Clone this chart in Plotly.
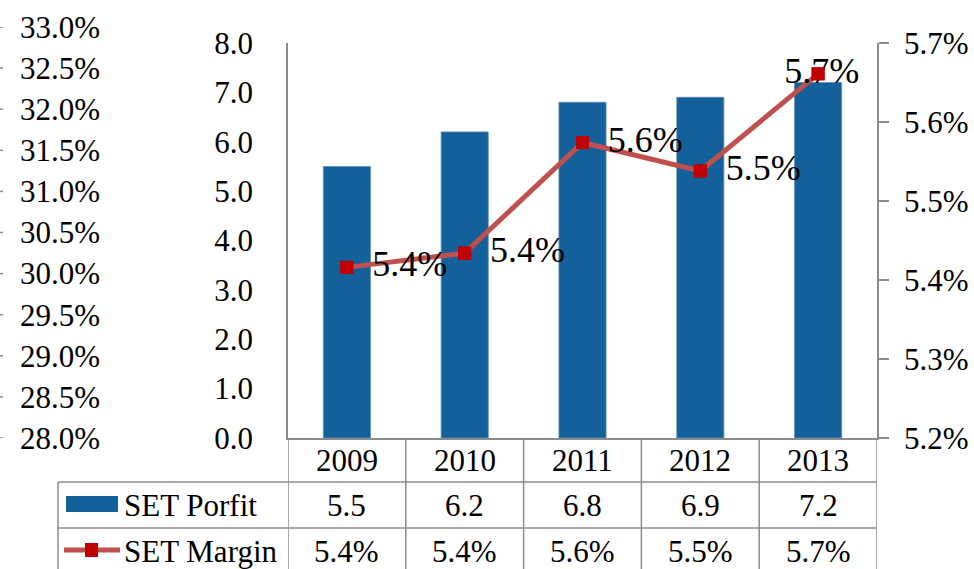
import plotly.graph_objects as go

# ---- data ----
years = ["2009", "2010", "2011", "2012", "2013"]
profit = [5.5, 6.2, 6.8, 6.9, 7.2]
margin = [5.416, 5.434, 5.574, 5.538, 5.661]
profit_ticks = [0, 8, 1]
margin_ticks = [5.2, 5.7, 0.1]
outer_ticks = [28.0, 33.0, 0.5]
series_names = ["SET Porfit", "SET Margin"]

W, H = 974, 569
FONT = "Liberation Serif"
BAR = "#14609A"
LINE = "#C0504D"
MARK = "#C00000"
GRID = "#8C8C8C"


def px(x):
    return x / W


def py(y):
    return 1 - y / H


fig = go.Figure()

fig.add_trace(go.Bar(x=years, y=profit, marker_color=BAR, width=0.4,
                     marker_line=dict(color="#5E8DB8", width=0.8),
                     name=series_names[0], showlegend=False, hoverinfo="skip"))

labels = [f"{v:.1f}%" for v in margin]
positions = ["middle right"] * (len(years) - 1) + ["middle center"]
texts = [(" \u2009" + t) if p == "middle right" else ("\u2009" + t)
         for t, p in zip(labels, positions)]
fig.add_trace(go.Scatter(x=years, y=margin, yaxis="y2", mode="lines+markers+text",
                         line=dict(color=LINE, width=5),
                         marker=dict(symbol="square", size=13, color=MARK),
                         text=texts, textposition=positions,
                         textfont=dict(family=FONT, size=36, color="black"),
                         name=series_names[1], showlegend=False, hoverinfo="skip"))
fig.add_trace(go.Scatter(x=years, y=margin, yaxis="y2", mode="markers",
                         marker=dict(symbol="square", size=13, color=MARK),
                         showlegend=False, hoverinfo="skip"))
# carrier trace for the outer left axis (no visible marks)
fig.add_trace(go.Scatter(x=years, y=[None] * len(years), yaxis="y3", mode="lines",
                         showlegend=False, hoverinfo="skip"))

tickfont = dict(family=FONT, size=31, color="black")
dom_main = [py(438), py(43)]

fig.update_layout(
    width=W, height=H, autosize=False,
    margin=dict(l=0, r=0, t=0, b=0, pad=0),
    paper_bgcolor="white", plot_bgcolor="rgba(0,0,0,0)",
    font=dict(family=FONT, color="black"),
    xaxis=dict(domain=[px(288), px(877)], range=[-0.5, len(years) - 0.5],
               type="category", showticklabels=False, showline=True,
               linecolor=GRID, linewidth=1.5, ticks="", showgrid=False,
               zeroline=False, anchor="y", automargin=False),
    yaxis=dict(domain=dom_main, range=[profit_ticks[0], profit_ticks[1]],
               dtick=profit_ticks[2], tickformat=".1f", showline=True,
               linecolor=GRID, linewidth=1.5, ticks="outside", ticklen=27,
               tickcolor="rgba(0,0,0,0)", showgrid=False, automargin=False,
               zeroline=False, tickfont=tickfont),
    yaxis2=dict(domain=dom_main, overlaying="y", side="right", anchor="x",
                range=[margin_ticks[0], margin_ticks[1]], dtick=margin_ticks[2],
                tick0=margin_ticks[0], tickformat=".1f", ticksuffix="%",
                showline=True, linecolor=GRID, linewidth=1.5, ticks="outside",
                ticklen=10, tickwidth=1.5, tickcolor=GRID, showgrid=False,
                zeroline=False, tickfont=tickfont, automargin=False,
                ticklabelstandoff=9),
    yaxis3=dict(domain=[py(438), py(27)], anchor="free", position=px(100), side="left",
                range=[outer_ticks[0], outer_ticks[1]], dtick=outer_ticks[2],
                tick0=outer_ticks[0], tickformat=".1f", ticksuffix="%",
                showline=False, ticks="", automargin=False,
                showgrid=False, zeroline=False, tickfont=tickfont),
)

# ---- data table below the axis ----
rows_y = [438, 482, 528, 574]
shapes = []
for i in range(len(years) + 1):
    shapes.append(dict(type="line", xref="x", yref="paper", x0=i - 0.5, x1=i - 0.5,
                       y0=py(rows_y[0]), y1=py(rows_y[-1]),
                       line=dict(color=GRID, width=1.5)))
shapes.append(dict(type="line", xref="paper", yref="paper", x0=px(58), x1=px(58),
                   y0=py(rows_y[1]), y1=py(rows_y[-1]), line=dict(color=GRID, width=1.5)))
for r in rows_y[1:]:
    shapes.append(dict(type="line", xref="paper", yref="paper", x0=px(58), x1=px(877),
                       y0=py(r), y1=py(r), line=dict(color=GRID, width=1.5)))
# little tick dashes of the outer axis
k = 0
while outer_ticks[0] + k * outer_ticks[2] <= outer_ticks[1] + 1e-9:
    v = outer_ticks[0] + k * outer_ticks[2]
    shapes.append(dict(type="line", xref="paper", yref="y3", x0=0, x1=px(3), y0=v, y1=v,
                       line=dict(color=GRID, width=1.5)))
    k += 1
# legend keys
shapes.append(dict(type="rect", xref="paper", yref="paper", x0=px(66), x1=px(118),
                   y0=py(512), y1=py(496), fillcolor=BAR, line=dict(width=0)))
shapes.append(dict(type="line", xref="paper", yref="paper", x0=px(64), x1=px(120),
                   y0=py(550), y1=py(550), line=dict(color=LINE, width=5)))
shapes.append(dict(type="rect", xref="paper", yref="paper", x0=px(85), x1=px(98),
                   y0=py(557), y1=py(543), fillcolor=MARK, line=dict(width=0)))
fig.update_layout(shapes=shapes)

cellfont = dict(family=FONT, size=31, color="black")
anns = []
row_centers = [(rows_y[j] + rows_y[j + 1]) / 2 for j in range(3)]
for i, yr in enumerate(years):
    anns.append(dict(x=i, xref="x", y=py(row_centers[0]), yref="paper", text=yr,
                     showarrow=False, font=cellfont, xanchor="center", yanchor="middle"))
    anns.append(dict(x=i, xref="x", y=py(row_centers[1]), yref="paper",
                     text=f"{profit[i]:.1f}", showarrow=False, font=cellfont,
                     xanchor="center", yanchor="middle"))
    anns.append(dict(x=i, xref="x", y=py(row_centers[2]), yref="paper",
                     text=f"{margin[i]:.1f}%", showarrow=False, font=cellfont,
                     xanchor="center", yanchor="middle"))
for j, name in enumerate(series_names):
    anns.append(dict(x=px(122), xref="paper", y=py(row_centers[j + 1]), yref="paper",
                     text=name, showarrow=False, font=cellfont,
                     xanchor="left", yanchor="middle"))
fig.update_layout(annotations=anns)

fig.write_html("out.html", config={"displayModeBar": False},
               post_script="document.body.style.margin='0';")
